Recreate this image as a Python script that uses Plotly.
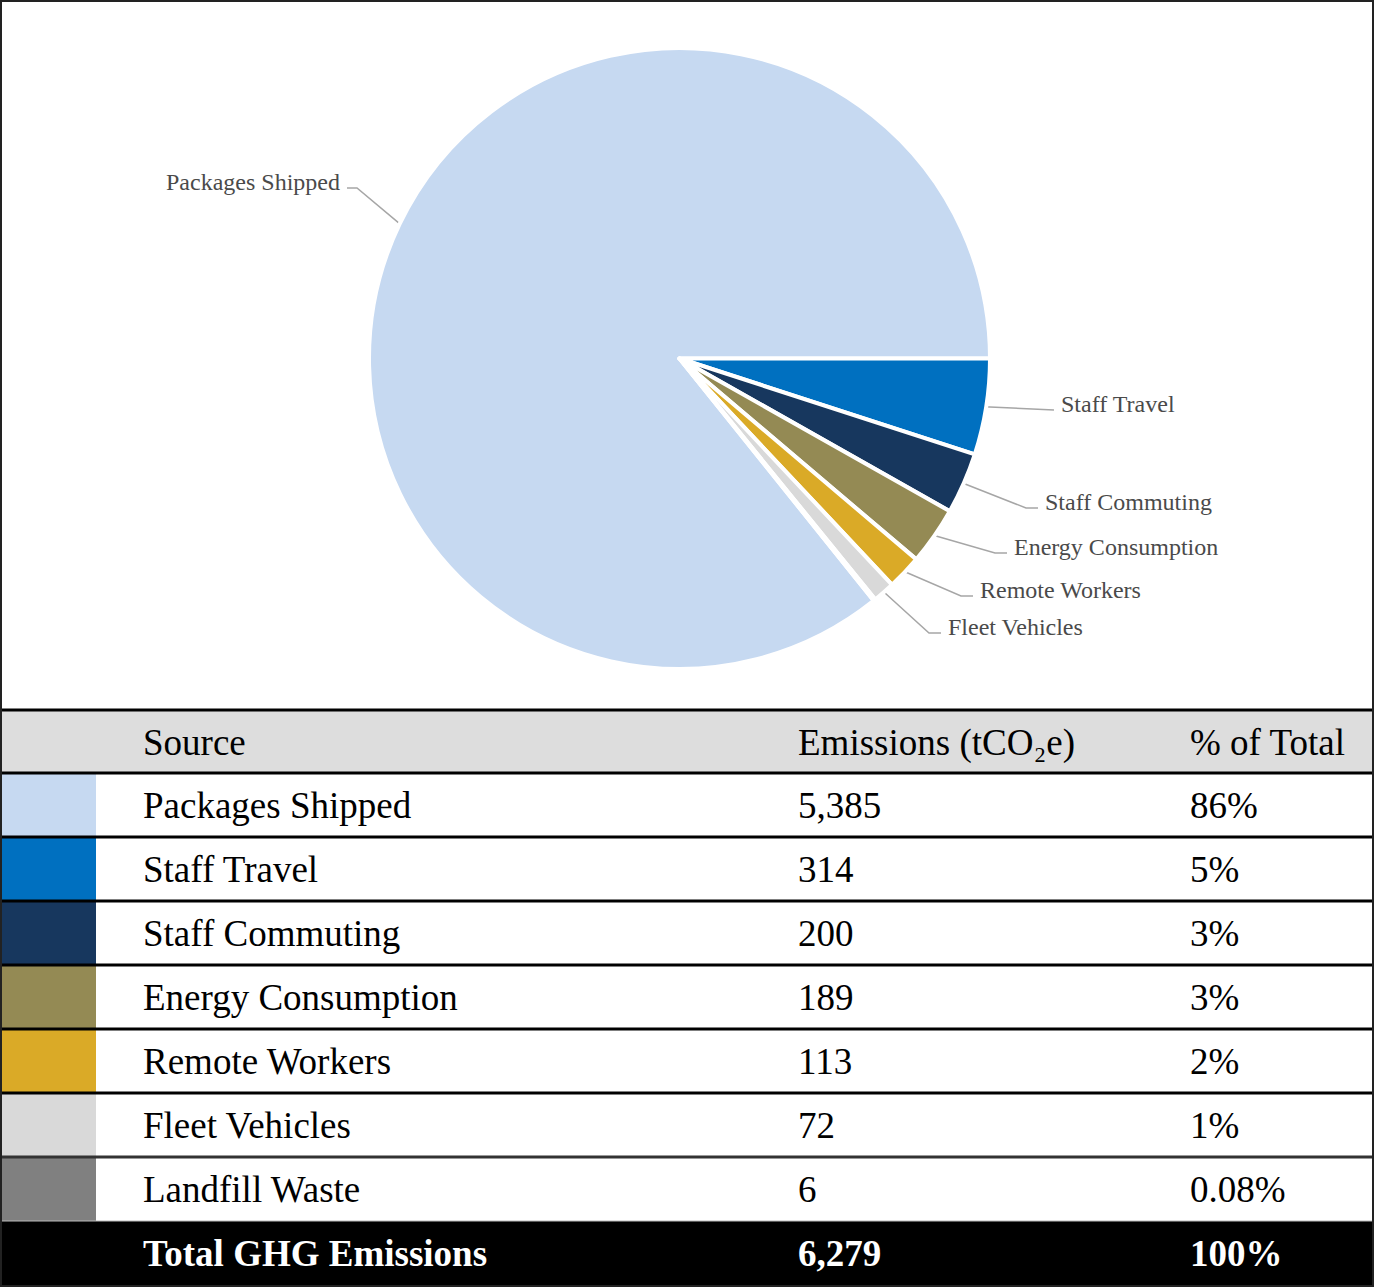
import math
import plotly.graph_objects as go

# ---------------- data ----------------
sources = ["Packages Shipped", "Staff Travel", "Staff Commuting",
           "Energy Consumption", "Remote Workers", "Fleet Vehicles", "Landfill Waste"]
emissions = [5385, 314, 200, 189, 113, 72, 6]
pct_labels = ["86%", "5%", "3%", "3%", "2%", "1%", "0.08%"]
total_label = "Total GHG Emissions"
total_pct_label = "100%"
header_labels = ["Source", "Emissions (tCO\u2082e)", "% of Total"]

# ---------------- styles / layout ----------------
colors = ["#C6D9F1", "#0070C0", "#17375E", "#948A54", "#DAAA27", "#D9D9D9", "#808080"]
W, H = 1374, 1287
TABLE_TOP = 710
HEADER_H = 63
ROW_H = 64
SWATCH_W = 96
TEXT_X = [143, 798, 1190]           # left edge of the three text columns
TEXT_DY = 4                         # push text slightly below row centre
CX, CY, R = 679.5, 358.5, 308.5      # pie centre / radius in pixels
STROKE = 4
FONT = "Liberation Serif"
TABLE_FONT_SIZE = 37
LABEL_COLOR = "#4A4A4A"
LEADER_COLOR = "#A6A6A6"
HEADER_FILL = "#DDDDDD"
# label text positions (pixels): x, y(centre), side
label_pos = {
    "Packages Shipped": (342, 182, "left"),
    "Staff Travel": (1059, 404, "right"),
    "Staff Commuting": (1043, 502, "right"),
    "Energy Consumption": (1012, 547, "right"),
    "Remote Workers": (978, 590, "right"),
    "Fleet Vehicles": (946, 627, "right"),
}

total = sum(emissions)
rotation = 90 + 360 * (total - emissions[0]) / total

fig = go.Figure()

# ---------- pie ----------
rp = R + STROKE / 2
fig.add_trace(go.Pie(
    labels=sources, values=emissions, sort=False, direction="clockwise",
    rotation=rotation, textinfo="none", hoverinfo="label+value+percent",
    marker=dict(colors=colors, line=dict(color="white", width=STROKE)),
    domain=dict(x=[(CX - rp) / W, (CX + rp) / W],
                y=[1 - (CY + rp) / H, 1 - (CY - rp) / H]),
    showlegend=False,
))

# ---------- leader lines + labels ----------
cum = 0.0
annotations = []
for name, v in zip(sources, emissions):
    start = rotation + 360 * cum / total
    cum += v
    end = rotation + 360 * cum / total
    if name not in label_pos:
        continue
    mid = math.radians((start + end) / 2)
    ax_ = CX + R * math.sin(mid)
    ay_ = CY - R * math.cos(mid)
    tx, ty, side = label_pos[name]
    if side == "right":
        ex, tail = tx - 17, tx - 5
    else:
        ex, tail = tx + 15, tx + 5
    ly = ty + 6
    fig.add_trace(go.Scatter(
        x=[ax_, ex, tail], y=[ay_, ly, ly], mode="lines",
        line=dict(color=LEADER_COLOR, width=1.5), hoverinfo="skip",
        showlegend=False, xaxis="x", yaxis="y"))
    annotations.append(dict(
        x=tx, y=ty, xref="x", yref="y", text=name, showarrow=False,
        xanchor="left" if side == "right" else "right", yanchor="middle",
        font=dict(family=FONT, size=24, color=LABEL_COLOR)))

# ---------- table (cells drawn as bars on the pixel axes) ----------
n = len(sources)
row_centers = [TABLE_TOP + HEADER_H / 2] + \
    [TABLE_TOP + HEADER_H + (k + 0.5) * ROW_H for k in range(n + 1)]
row_heights = [HEADER_H] + [ROW_H] * (n + 1)

swatch_colors = [HEADER_FILL] + colors + ["black"]
body_colors = [HEADER_FILL] + ["white"] * n + ["black"]
fig.add_trace(go.Bar(
    orientation="h", y=row_centers, x=[SWATCH_W] * len(row_centers),
    base=[0] * len(row_centers), width=row_heights,
    marker=dict(color=swatch_colors, line=dict(width=0)),
    hoverinfo="skip", showlegend=False))
fig.add_trace(go.Bar(
    orientation="h", y=row_centers, x=[W - SWATCH_W] * len(row_centers),
    base=[SWATCH_W] * len(row_centers), width=row_heights,
    marker=dict(color=body_colors, line=dict(width=0)),
    hoverinfo="skip", showlegend=False))

columns_text = [
    [header_labels[0]] + sources + [f"<b>{total_label}</b>"],
    [header_labels[1]] + [f"{v:,}" for v in emissions] + [f"<b>{total:,}</b>"],
    [header_labels[2]] + pct_labels + [f"<b>{total_pct_label}</b>"],
]
text_colors = ["black"] * (n + 1) + ["white"]
text_y = [y + TEXT_DY for y in row_centers]
for cx, texts in zip(TEXT_X, columns_text):
    fig.add_trace(go.Scatter(
        x=[cx] * len(texts), y=text_y, mode="text", text=texts,
        textposition="middle right", cliponaxis=False,
        textfont=dict(family=FONT, size=TABLE_FONT_SIZE, color=text_colors),
        hoverinfo="skip", showlegend=False))

# ---------- decoration shapes (pixel coordinates) ----------
shapes = []
row_lines = [TABLE_TOP] + [TABLE_TOP + HEADER_H + k * ROW_H for k in range(n + 1)]
for i, yl in enumerate(row_lines):
    if i == len(row_lines) - 1:
        col, wdt = "#BBBBBB", 1
    elif i == len(row_lines) - 2:
        col, wdt = "#333333", 3
    else:
        col, wdt = "black", 3
    shapes.append(dict(type="line", xref="x", yref="y", x0=0, x1=W, y0=yl, y1=yl,
                       line=dict(color=col, width=wdt), layer="above"))
shapes.append(dict(type="rect", xref="x", yref="y", x0=1, y0=1, x1=W - 1, y1=H - 1,
                   line=dict(color="#222222", width=2), layer="above"))

fig.update_layout(
    width=W, height=H, margin=dict(l=0, r=0, t=0, b=0),
    paper_bgcolor="white", plot_bgcolor="rgba(0,0,0,0)",
    barmode="overlay",
    xaxis=dict(range=[0, W], domain=[0, 1], visible=False, fixedrange=True),
    yaxis=dict(range=[H, 0], domain=[0, 1], visible=False, fixedrange=True),
    shapes=shapes, annotations=annotations, showlegend=False,
)

fig.write_html("out.html")
